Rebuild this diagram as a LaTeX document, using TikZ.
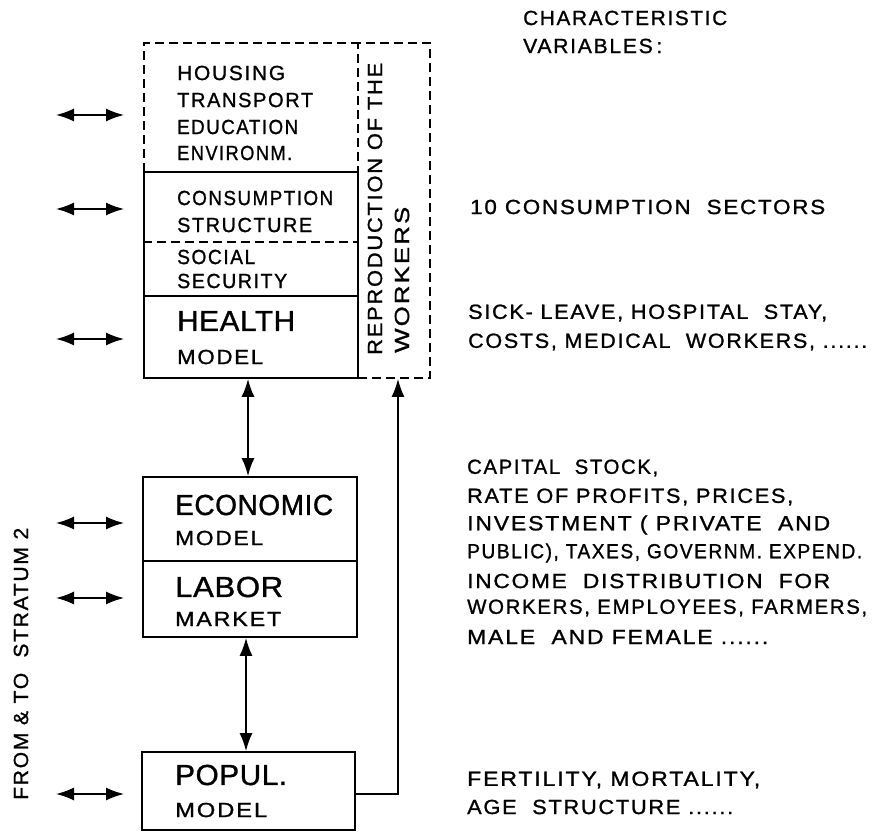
\documentclass[tikz,border=0pt]{standalone}
\usepackage{graphicx}
\usepackage{fontspec}
\setmainfont{Liberation Sans}
\newfontfamily\smf[LetterSpace=8,FakeBold=1.1]{Liberation Sans}
\newfontfamily\bgf[LetterSpace=2,FakeBold=1.1]{Liberation Sans}
\newcommand\W[2]{\resizebox{#1pt}{\height}{#2}}
\usetikzlibrary{arrows.meta}
\begin{document}
\begin{tikzpicture}[x=1pt,y=-1pt,
 lab/.style={anchor=west,inner sep=0pt,font=\smf\fontsize{20.5}{28}\selectfont},
 big/.style={anchor=west,inner sep=0pt,font=\bgf\fontsize{29}{29}\selectfont},
 boxn/.style={draw,line width=1.8pt,inner sep=0pt},
 dsh/.style={line width=1.8pt,dash pattern=on 9pt off 5pt},
 conn/.style={line width=1.6pt,{Latex[length=18pt,width=13pt]}-{Latex[length=18pt,width=13pt]}},
 one/.style={line width=1.6pt,-{Latex[length=18pt,width=13pt]}},
]
\useasboundingbox (0,0) rectangle (884,834);
% top dashed area
\draw[dsh] (144,172) -- (144,43) -- (358,43);
\node[boxn,dsh,minimum width=72pt,minimum height=335pt] (repro) at (394,210.5) {};
\node[boxn,minimum width=214pt,minimum height=124pt] (cons) at (251,234) {};
\draw[dsh] (cons.west |- 0,242) coordinate (dl) -- (cons.east |- 0,242) coordinate (dr);
\node[boxn,minimum width=214pt,minimum height=82pt] (health) at (251,337) {};
\node[boxn,minimum width=214pt,minimum height=84pt] (econ) at (250,519) {};
\node[boxn,minimum width=214pt,minimum height=76pt] (labor) at (250,599) {};
\node[boxn,minimum width=213pt,minimum height=78pt] (popul) at (248.5,791) {};

% texts in boxes
\node[lab] (t1) at (177,73) {\W{108}{HOUSING}};
\node[lab] (t2) at (177,100) {\W{136}{TRANSPORT}};
\node[lab] (t3) at (177,127) {\W{121}{EDUCATION}};
\node[lab] (t4) at (177,153) {\W{115}{ENVIRONM.}};
\node[lab] (t5) at (177,198) {\W{156}{CONSUMPTION}};
\node[lab] (t6) at (177,225) {\W{135}{STRUCTURE}};
\node[lab] (t7) at (177,257) {\W{78}{SOCIAL}};
\node[lab] (t8) at (177,281) {\W{110}{SECURITY}};
\node[big] (t9) at (177,321) {\W{118}{HEALTH}};
\node[lab] (t10) at (177,357) {\W{86}{MODEL}};
\node[big] (t11) at (175,505) {\W{158}{ECONOMIC}};
\node[lab] (t12) at (175,538) {\W{88}{MODEL}};
\node[big] (t13) at (175,587) {\W{108}{LABOR}};
\node[lab] (t14) at (175,619) {\W{106}{MARKET}};
\node[big] (t15) at (175,775) {\W{112}{POPUL.}};
\node[lab] (t16) at (175,810) {\W{92}{MODEL}};

\node[lab,rotate=90] (rp1) at (375,355) {\W{292}{REPRODUCTION OF THE}};
\node[lab,rotate=90] (rp2) at (402,353) {\W{146}{WORKERS}};
\node[lab,rotate=90] (strat) at (21,800) {\W{272}{FROM \& TO\ \ STRATUM 2}};

% right column
\node[lab] (r0a) at (523,18) {\W{204}{CHARACTERISTIC}};
\node[lab] (r0b) at (523,46) {\W{139}{VARIABLES\,:}};
\node[lab] (r1) at (470,207) {\W{355}{10 CONSUMPTION\ \ SECTORS}};
\node[lab] (r2a) at (468,313) {\W{359}{SICK- LEAVE, HOSPITAL\ \ STAY,}};
\node[lab] (r2b) at (468,342) {\W{399}{COSTS, MEDICAL\ \ WORKERS, ......}};
\node[lab] (r3a) at (467,468) {\W{191}{CAPITAL\ \ STOCK,}};
\node[lab] (r3b) at (467,497) {\W{326}{RATE OF PROFITS, PRICES,}};
\node[lab] (r3c) at (467,525) {\W{363}{INVESTMENT ( PRIVATE\ \ AND}};
\node[lab] (r3d) at (467,553) {\W{395}{PUBLIC), TAXES, GOVERNM. EXPEND.}};
\node[lab] (r3e) at (467,581) {\W{363}{INCOME\ \ DISTRIBUTION\ \ FOR}};
\node[lab] (r3f) at (467,608) {\W{400}{WORKERS, EMPLOYEES, FARMERS,}};
\node[lab] (r3g) at (467,637) {\W{301}{MALE\ \ AND FEMALE ......}};
\node[lab] (r4a) at (467,780) {\W{293}{FERTILITY, MORTALITY,}};
\node[lab] (r4b) at (467,807) {\W{266}{AGE\ \ STRUCTURE ......}};

% left arrows
\foreach \y/\n in {115/a,209/b,339/c,523/d,598/e,794/f}{
  \coordinate (la\n) at (56,\y);
  \coordinate (lb\n) at (124,\y);
  \draw[conn] (la\n) -- (lb\n);
}
% vertical arrows
\draw[conn] ([xshift=-3pt]health.south) -- ([xshift=-2pt]econ.north);
\draw[conn] ([xshift=-4pt]labor.south) -- ([xshift=-2.5pt]popul.north);
\draw[one] ([yshift=-3pt]popul.east) -| ([xshift=4pt]repro.south);
\end{tikzpicture}
\end{document}
